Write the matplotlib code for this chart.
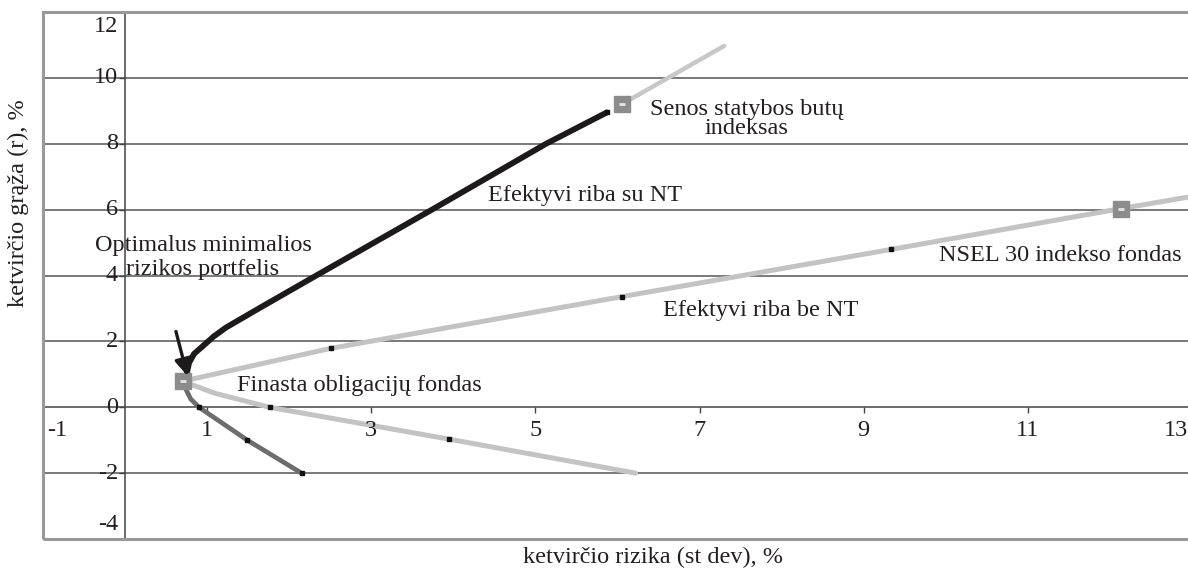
import matplotlib
matplotlib.use("Agg")
import matplotlib.pyplot as plt
from matplotlib.patches import Rectangle
from matplotlib.transforms import ScaledTranslation

plt.rcParams['font.family'] = ['Liberation Serif', 'DejaVu Serif']

# ---- data ----
su_nt_x = [0.75, 0.78, 0.84, 0.94, 1.08, 1.23, 1.63, 2.33, 3.74, 5.13, 5.87]
su_nt_y = [1.0, 1.35, 1.62, 1.84, 2.15, 2.42, 3.0, 4.0, 6.0, 8.0, 8.95]

be_up_x = [0.70, 2.51, 6.06, 9.33, 12.13, 13.0]
be_up_y = [0.79, 1.79, 3.36, 4.79, 6.03, 6.40]

be_low_x = [0.70, 1.10, 1.76, 3.95, 6.22]
be_low_y = [0.79, 0.42, 0.0, -0.97, -2.0]

dark_x = [0.70, 0.74, 0.80, 0.90, 1.49, 2.15]
dark_y = [0.79, 0.55, 0.25, 0.0, -1.0, -2.0]

ext_x = [6.06, 7.30]
ext_y = [9.21, 10.97]

pt_mark_x = [2.51, 6.06, 9.33, 1.76, 3.95, 0.90, 1.49, 2.15, 5.87]
pt_mark_y = [1.79, 3.36, 4.79, 0.0, -0.97, 0.0, -1.0, -2.0, 8.95]

assets_x = [0.70, 6.06, 12.13]
assets_y = [0.79, 9.21, 6.03]

xticks = [-1, 1, 3, 5, 7, 9, 11, 13]
yticks = [-4, -2, 0, 2, 4, 6, 8, 10, 12]
grid_y = [-2, 2, 4, 6, 8, 10]

W, H = 1188, 569
fig = plt.figure(figsize=(W / 100, H / 100), dpi=100)
ax = fig.add_axes([43 / W, (H - 539) / H, (1192 - 43) / W, (539 - 12) / H])
ax.set_xlim(-1, 13)
ax.set_ylim(-4, 12)
for s in ax.spines.values():
    s.set_visible(False)
ax.set_xticks([])
ax.set_yticks([])

txtc = '#231f20'
# gridlines
for g in grid_y:
    ax.axhline(g, color='#555555', lw=1.1, zorder=1)
ax.axhline(0, color='#444444', lw=1.1, zorder=1)
ax.axvline(0, color='#444444', lw=1.1, zorder=1)
# border
ax.add_patch(Rectangle((0, 0), 1, 1, transform=ax.transAxes, fill=False,
                       edgecolor='#999999', lw=2.2, zorder=5, clip_on=False))

# tick marks
for xt in xticks:
    ax.plot([xt], [0], marker=3, ms=4, color='#444444', mew=1, zorder=2)
for yt in yticks:
    ax.plot([0], [yt], marker=0, ms=4, color='#444444', mew=1, zorder=2)

fs = 17.5
# x tick labels
for xt in xticks:
    dx = 0
    if xt == xticks[0]:
        dx = 14 / 100
    elif xt == xticks[-1]:
        dx = -16 / 100
    tr = ax.transData + ScaledTranslation(dx, -23 / 100, fig.dpi_scale_trans)
    ax.text(xt, 0, str(xt), transform=tr, ha='center', va='center',
            fontsize=fs, color=txtc, zorder=6)
# y tick labels
for yt in yticks:
    dy = 0
    if yt == yticks[-1]:
        dy = -15 / 100
    elif yt == yticks[0]:
        dy = 14 / 100
    tr = ax.transData + ScaledTranslation(-7 / 100, dy, fig.dpi_scale_trans)
    ax.text(0, yt, str(yt), transform=tr, ha='right', va='center',
            fontsize=fs, color=txtc, zorder=6)

# lines
ax.plot(be_up_x, be_up_y, color='#c3c3c3', lw=3.6, zorder=3, solid_capstyle='round')
ax.plot(be_low_x, be_low_y, color='#c3c3c3', lw=3.6, zorder=3, solid_capstyle='round')
ax.plot(ext_x, ext_y, color='#c8c8c8', lw=3.2, zorder=3, solid_capstyle='round')
ax.plot(dark_x, dark_y, color='#6d6d6d', lw=3.4, zorder=3, solid_capstyle='round')
ax.plot(su_nt_x, su_nt_y, color='#1c1a1a', lw=4.2, zorder=4, solid_capstyle='round')
ax.plot(pt_mark_x, pt_mark_y, ls='none', marker='s', ms=2.6, color='#111111', zorder=5)
ax.plot(assets_x, assets_y, ls='none', marker='s', ms=11, color='#8c8c8c', zorder=6)
ax.plot(assets_x, assets_y, ls='none', marker='_', ms=4, mew=2, color='#e6e6e6', zorder=7)

# arrow
ax.annotate('', xy=(0.76, 0.95), xytext=(0.62, 2.3),
            arrowprops=dict(arrowstyle='-|>,head_length=1.0,head_width=0.5',
                            color='#1c1a1a', lw=2.4, shrinkA=0, shrinkB=0), zorder=8)

# annotations
ax.text(7.57, 8.76, 'Senos statybos butų\nindeksas', ha='center', va='center',
        fontsize=fs, color=txtc, linespacing=0.85, zorder=6)
ax.text(5.60, 6.42, 'Efektyvi riba su NT', ha='center', va='center', fontsize=fs, color=txtc, zorder=6)
ax.text(0.95, 4.55, 'Optimalus minimalios\nrizikos portfelis', ha='center', va='center',
        fontsize=fs, color=txtc, linespacing=1.2, zorder=6)
ax.text(7.74, 2.94, 'Efektyvi riba be NT', ha='center', va='center', fontsize=fs, color=txtc, zorder=6)
ax.text(11.39, 4.61, 'NSEL 30 indekso fondas', ha='center', va='center', fontsize=fs, color=txtc, zorder=6)
ax.text(2.85, 0.67, 'Finasta obligacijų fondas', ha='center', va='center', fontsize=fs, color=txtc, zorder=6)

fig.text(653 / W, 1 - 557 / H, 'ketvirčio rizika (st dev), %', ha='center', va='center',
         fontsize=fs, color=txtc)
fig.text(18 / W, 1 - 203 / H, 'ketvirčio grąža (r), %', ha='center', va='center',
         rotation=90, fontsize=fs, color=txtc)

fig.savefig('out.png', dpi=100)
